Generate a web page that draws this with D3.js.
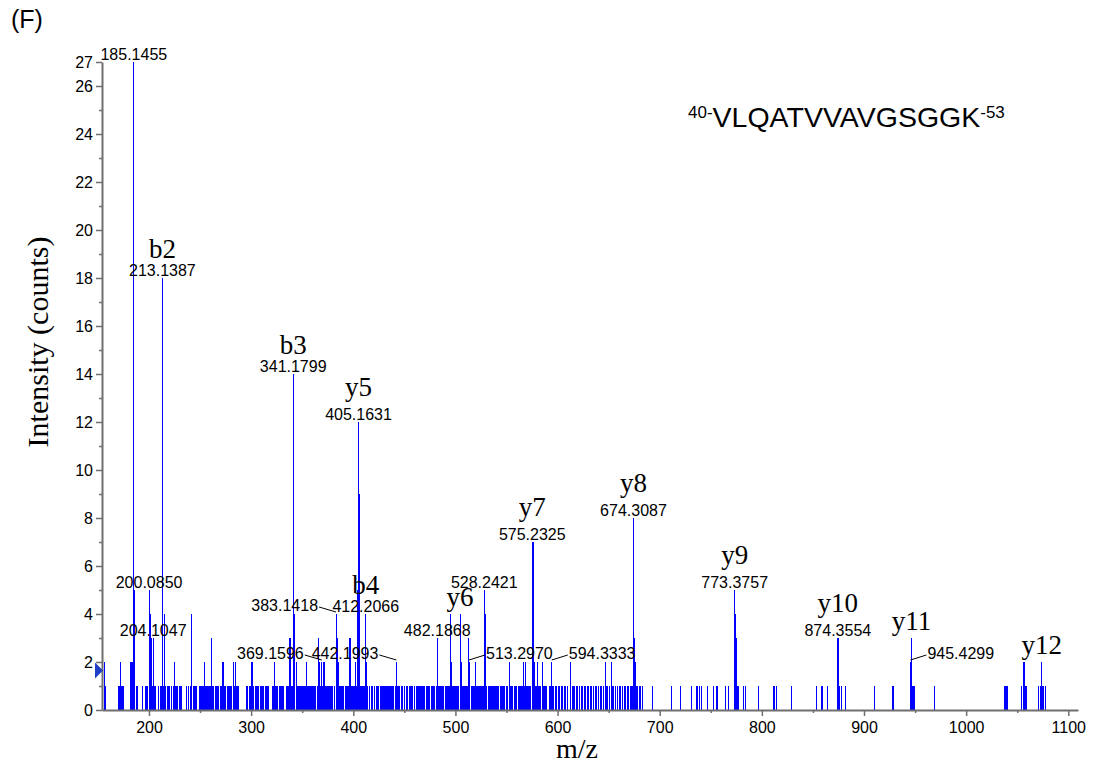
<!DOCTYPE html>
<html>
<head>
<meta charset="utf-8">
<script src="https://cdn.jsdelivr.net/npm/d3@7"></script>
<style>
body{margin:0;background:#fff;}
svg{display:block;}
</style>
</head>
<body>
<div class="spectrum-container"></div>
<script>
// peaks above one count (m/z, counts)
const peakMz = [156, 172.6, 182, 183, 184, 185.1455, 186.3, 200.085, 201.3, 202.6, 204.1047, 213.1387, 214.7,
  225.4, 242, 254.5, 261.3, 272.4, 273.2, 282.5, 284.4, 300.2, 301.5, 323, 337.4, 338.3, 341.1799, 341.7, 342.6,
  344.6, 354.3, 365.8, 366.6, 369.1596, 371.3, 372.1, 383.1418, 383.8, 384.4, 385.2, 396.1, 397.1, 401.7, 402.5,
  404.4, 405.1631, 405.9, 412.2066, 413, 442.1993, 482.1868, 495.1, 496.1, 504.6, 505.5, 512.4, 513.297, 519.6,
  528.2421, 529.1, 552.5, 567, 568.4, 575.2325, 576, 577, 580.5, 585, 594.3333, 612.5, 646.7, 652.6,
  674.3087, 675.2, 676, 773.3757, 774.2, 775.1, 874.3554, 875.2, 945.4299, 946.4, 1056.2, 1056.7, 1073.5, 1074.1];
const peakCounts = [2, 2, 2, 2, 2, 27, 5, 5, 4, 3, 3, 18, 4,
  2, 4, 2, 3, 2, 2, 2, 2, 2, 2, 2, 3, 3, 14, 11, 4,
  2, 2, 3, 2, 2, 2, 2, 4, 3, 3, 2, 3, 3, 2, 2,
  5, 12, 9, 4, 2, 2, 3, 4, 2, 4, 2, 3, 2, 2,
  5, 4, 2, 2, 2, 7, 7, 2, 2, 2, 2, 2, 2, 2,
  8, 3, 2, 5, 4, 3, 3, 3, 2, 3, 2, 2, 2, 2];

// single-count peaks
const singleMz = [157, 170.5, 171.5, 172.3, 173.5, 174.5, 175.5, 181.5, 187.5, 189, 193.2, 196.4, 197.5, 198.8,
  203, 205, 206.2, 209.3, 211, 212, 214.2, 215.3, 216.5, 217.8, 219.2, 220.5, 222.4, 223.6, 225.8, 227, 228.3,
  229.4, 230.5, 231.6, 237.2, 239, 240.3, 241.3, 243.2, 244.3, 245.4, 246.8, 249.2, 250.3, 251.4, 252.3, 253.5,
  255, 256.2, 257.2, 258.3, 259.4, 260.4, 262.2, 263.3, 264.8, 265.8, 267, 268.2, 269.8, 270.8, 271.8, 273.8,
  274.8, 276.5, 277.5, 278.6, 280, 281.2, 282.4, 284, 285.5, 286.6, 287.6, 295.8, 296.8, 298, 299.2, 300.3,
  301.8, 302.8, 304, 305.5, 306.6, 307.6, 309, 310.2, 311.3, 312.4, 313.8, 315, 316.2, 317.3, 320.5, 321.6,
  322.5, 324, 325.2, 326.3, 327.4, 328.5, 329.6, 330.8, 331.8,
  335, 336, 337, 338.4, 339.3, 340.2, 342.8, 344, 345.2, 346.2, 347.3, 348.4, 349.5, 350.6, 351.6, 352.7,
  353.6, 355, 356, 357, 358.2, 359.3, 360.4, 361.4, 362.4, 363.5, 364.6, 365.7, 366.8, 367.8, 368.6, 370.2,
  371.2, 372.4, 373.8, 374.8, 375.8, 376.9, 378, 379, 380.1, 381.2, 382.1, 384.2, 385.2, 386.3, 387.2, 388.3,
  389.4, 390.4, 392.8, 393.8, 394.8, 395.8, 397.3, 398.3, 399.4, 400.4, 401.4, 403.2, 404.4, 407.2, 408.2,
  409.2, 410.2, 411.3, 413.3, 414.3, 416.3, 417.6, 419, 420.6, 422.4, 423.6, 424.6, 426.2, 427.2, 428.2,
  429.3, 430.3, 431.3, 432.4, 433.4, 434.4, 435.5, 436.5, 437.6, 438.6, 439.6, 441.2, 443.3, 444.2, 445.6,
  447.2, 448.2, 450.1, 451.8, 453, 454.8, 456, 457.1, 458.2, 460, 461.5, 462.6, 463.6, 464.6, 465.7, 466.7,
  467.8, 468.8, 470.2, 471.2, 472.3, 473.5, 475, 476.1, 477.2, 478.3, 479.8, 481, 483.4, 484.5, 485.6, 486.6,
  487.7, 488.7, 489.8, 490.8, 492, 493.6, 494.6, 496.2, 497.3, 498.3, 499.3, 500.4, 501.5, 502.5, 503.5,
  505.6, 506.6, 507.7, 508.8, 509.8, 510.9, 511.6, 514.2, 515.3, 516.3, 517.3, 518.4, 520.4, 521.5, 522.5,
  523.6, 524.6, 525.7, 526.7, 527.7, 529.8, 530.8, 531.9, 532.9, 534, 535.2, 536.3, 537.3, 538.4, 539.4,
  540.5, 541.5, 542.6, 544, 545.3, 546.4, 547.4, 548.5, 550.2, 551.3, 553.6, 554.6, 556.3, 557.4, 558.4,
  560.2, 561.3, 562.3, 563.4, 564.4, 565.5, 566.5, 567.6, 569.3, 570.4, 571.4, 572.5, 573.5, 577.4, 578.4,
  579.5, 580.6, 581.6, 582.7, 583.7, 584.8, 585.8, 586.9, 588, 589, 592.3, 593.3, 595.4, 596.4, 598.1,
  599.2, 601, 602.3, 604.2, 605.3, 606.4, 608.2, 609.3, 614.2, 615.3, 616.4, 618.2, 620, 621.1, 623, 624.2,
  626.3, 627.4, 629.2, 630.3, 632.1, 633.2, 635.2, 637, 638.2, 640.1, 642.3, 643.4, 645.4, 647.8, 649.3,
  650.4, 653.8, 654.8, 657.2, 658.3, 660.4, 661.5, 663.3, 665.2, 666.3, 668.2, 669.3, 671.2, 672.3, 673.3,
  677.2, 678.3, 680.2, 681.3, 683.2,
  693, 712, 720.4, 731, 735.8, 737.2, 739.1, 740.7, 747.2, 753, 755.2, 757, 764.4, 767.6, 776.3, 777.2,
  782.4, 784, 797, 811, 812.2, 814, 829.3, 853.8, 858, 859.2, 864, 876.3, 877.6, 882, 910.4, 928, 929.1,
  947.3, 948.3, 949.4, 969, 1037.4, 1038.5, 1039.5, 1040.6, 1054.6, 1057, 1058, 1059, 1070.6, 1072.6,
  1074.8, 1075.6, 1077.2];

// labels
const centreLabelMz = [185.1455, 200.085, 204.1047, 213.1387, 341.1799, 405.1631, 412.2066, 482.1868,
  528.2421, 575.2325, 674.3087, 773.3757, 874.3554];
const leftLabelMz = [369.1596, 383.1418, 442.1993];
const rightLabelMz = [513.297, 594.3333, 945.4299];
const ionNames = ['b2', 'b3', 'b4', 'y5', 'y6', 'y7', 'y8', 'y9', 'y10', 'y11', 'y12'];
const ionMz = [213.1387, 341.1799, 412.2066, 405.1631, 504.6, 575.2325, 674.3087, 773.3757, 874.3554, 946.4, 1074.1];

const xMajor = [200, 300, 400, 500, 600, 700, 800, 900, 1000, 1100];
const xMinor = [250, 350, 450, 550, 650, 750, 850, 950, 1050];
const yMajor = [0, 2, 4, 6, 8, 10, 12, 14, 16, 18, 20, 22, 24, 26, 27];
const yMinor = [1, 3, 5, 7, 9, 11, 13, 15, 17, 19, 21, 23, 25];
const thresholdLevel = 1.65;

const peptide = 'VLQATVVAVGSGGK';
const peptideStart = '40-';
const peptideEnd = '-53';

const sans = '"Liberation Sans", Arial, sans-serif';
const serif = '"Liberation Serif", "Times New Roman", serif';

function drawSpectrum(){
    const width = 1097, height = 769;
    const svg = d3.select('.spectrum-container').append('svg')
        .attr('width', width).attr('height', height);

    const xScale = d3.scaleLinear().domain([154, 1109.5]).range([102, 1078]);
    const yScale = d3.scaleLinear().domain([0, 27]).range([710, 62]);

    const allPeaks = singleMz.map(m => ({mz: m, counts: 1}))
        .concat(peakMz.map((m, i) => ({mz: m, counts: peakCounts[i]})));
    const countOf = mz => peakCounts[peakMz.indexOf(mz)];

    // bars
    svg.append('g').attr('class', 'bars')
        .selectAll('line').data(allPeaks).enter().append('line')
        .attr('x1', d => xScale(d.mz)).attr('x2', d => xScale(d.mz))
        .attr('y1', yScale(0)).attr('y2', d => yScale(d.counts))
        .attr('stroke', '#0000ff').attr('stroke-width', 1)
        .attr('shape-rendering', 'crispEdges');

    // axes
    const axisColor = '#6f6f6f';
    const xAxis = d3.axisBottom(xScale).tickValues(xMajor).tickFormat(d3.format('d'))
        .tickSize(6).tickSizeOuter(0).tickPadding(6);
    svg.append('g').attr('transform', `translate(0,${yScale(0)})`).call(xAxis);
    svg.append('g').attr('transform', `translate(0,${yScale(0)})`)
        .call(d3.axisBottom(xScale).tickValues(xMinor).tickSize(3).tickSizeOuter(0).tickFormat(''))
        .select('.domain').remove();

    const yAxis = d3.axisLeft(yScale).tickValues(yMajor).tickSize(6).tickSizeOuter(0).tickPadding(3);
    svg.append('g').attr('transform', `translate(102,0)`).call(yAxis);
    svg.append('g').attr('transform', `translate(102,0)`)
        .call(d3.axisLeft(yScale).tickValues(yMinor).tickSize(3).tickSizeOuter(0).tickFormat(''))
        .select('.domain').remove();

    svg.selectAll('.domain').attr('stroke', axisColor).attr('stroke-width', 2);
    svg.selectAll('.tick line').attr('stroke', axisColor).attr('stroke-width', 1.5);
    svg.selectAll('.tick text').attr('fill', '#000')
        .style('font-family', sans).style('font-size', '16px');

    // threshold marker
    const ty = yScale(thresholdLevel);
    svg.append('path')
        .attr('d', `M95,${ty - 8}L103,${ty}L95,${ty + 8}Z`)
        .attr('fill', '#1f3fc4');

    // number labels
    const labels = svg.append('g').attr('class', 'labels')
        .style('font-family', sans).style('font-size', '16px').attr('fill', '#000');
    centreLabelMz.forEach(m => {
        labels.append('text').attr('x', xScale(m)).attr('y', yScale(countOf(m)) - 2)
            .attr('text-anchor', 'middle').text(m.toFixed(4));
    });
    leftLabelMz.forEach(m => {
        const px = xScale(m), top = yScale(countOf(m));
        labels.append('text').attr('x', px - 18).attr('y', top - 3)
            .attr('text-anchor', 'end').text(m.toFixed(4));
        labels.append('line').attr('x1', px - 17).attr('y1', top - 7).attr('x2', px).attr('y2', top - 2)
            .attr('stroke', '#000').attr('stroke-width', 1);
    });
    rightLabelMz.forEach(m => {
        const px = xScale(m), top = yScale(countOf(m));
        labels.append('text').attr('x', px + 17).attr('y', top - 3)
            .attr('text-anchor', 'start').text(m.toFixed(4));
        labels.append('line').attr('x1', px).attr('y1', top - 2).attr('x2', px + 16).attr('y2', top - 7)
            .attr('stroke', '#000').attr('stroke-width', 1);
    });

    // ion labels
    const ions = svg.append('g').attr('class', 'ions')
        .style('font-family', serif).style('font-size', '27px').attr('fill', '#000');
    ionNames.forEach((name, i) => {
        const m = ionMz[i];
        const hasNumber = centreLabelMz.includes(m);
        const top = yScale(countOf(m));
        const descender = name[0] === 'y' ? 6 : 0;
        const base = (hasNumber ? top - 20 : top - 2) - descender;
        ions.append('text').attr('x', xScale(m)).attr('y', base)
            .attr('text-anchor', 'middle').text(name);
    });

    // peptide
    const pep = svg.append('text').attr('x', 688).attr('y', 127)
        .style('font-family', sans).attr('fill', '#000');
    pep.append('tspan').style('font-size', '17px').attr('dy', -9).text(peptideStart);
    pep.append('tspan').style('font-size', '28.5px').attr('dy', 9).text(peptide);
    pep.append('tspan').style('font-size', '17px').attr('dy', -9).text(peptideEnd);

    // titles
    svg.append('text').attr('x', 11).attr('y', 28).style('font-family', sans).style('font-size', '25px')
        .text('(F)');
    svg.append('text').attr('x', 577).attr('y', 758).attr('text-anchor', 'middle')
        .style('font-family', serif).style('font-size', '28px').text('m/z');
    svg.append('text').attr('transform', 'translate(48,342) rotate(-90)').attr('text-anchor', 'middle')
        .style('font-family', serif).style('font-size', '30px').text('Intensity (counts)');
}

drawSpectrum();
</script>
</body>
</html>
